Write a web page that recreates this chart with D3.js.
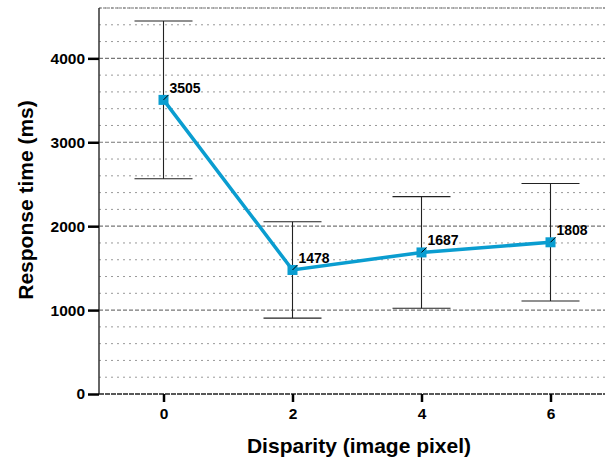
<!DOCTYPE html>
<html>
<head>
<meta charset="utf-8">
<script src="https://cdnjs.cloudflare.com/ajax/libs/d3/7.8.5/d3.min.js"></script>
<style>
  body { margin: 0; background: #fff; }
  svg { font-family: "Liberation Sans", Arial, sans-serif; }
</style>
</head>
<body>
<svg></svg>
<script>
  // data
  let disparity = [0, 2, 4, 6];
  let meanRT = [3505, 1478, 1687, 1808];
  let errRT = [940, 574, 665, 700];
  let xTicks = [0, 2, 4, 6];
  let yTicks = [0, 1000, 2000, 3000, 4000];

  let width = 605, height = 461;
  let margin = {top: 8, right: 0, bottom: 67, left: 99};
  let svg = d3.select("svg").attr("width", width).attr("height", height);

  let x = d3.scaleLinear().domain([-1, 6.5]).range([margin.left, margin.left + 7.5 * 64.5]);
  let y = d3.scaleLinear().domain([0, 4600]).range([height - margin.bottom, margin.top]);

  // minor grid every 200
  let minor = d3.range(200, 4601, 200).filter(v => v % 1000 !== 0);
  svg.append("g").selectAll("line").data(minor).enter().append("line")
    .attr("x1", margin.left).attr("x2", width)
    .attr("y1", d => y(d)).attr("y2", d => y(d))
    .attr("stroke", "#999").attr("stroke-width", 1).attr("stroke-dasharray", "2,4");

  // major grid
  svg.append("g").selectAll("line").data([1000, 2000, 3000, 4000, 4600]).enter().append("line")
    .attr("x1", margin.left).attr("x2", width)
    .attr("y1", d => y(d)).attr("y2", d => y(d))
    .attr("stroke", "#777").attr("stroke-width", 1.2).attr("stroke-dasharray", d => d === 4600 ? "3,1" : "4,2");

  // axes
  let yAxis = d3.axisLeft(y).tickValues(yTicks).tickFormat(d3.format("d")).tickSize(11).tickPadding(3);
  let gy = svg.append("g").attr("transform", "translate(" + margin.left + ",0)").call(yAxis);
  gy.select(".domain").attr("stroke", "#333").attr("stroke-width", 1.5).attr("d", "M0," + y(0) + "V" + y(4600));
  gy.selectAll(".tick line").attr("stroke", "#000").attr("stroke-width", 2.5);
  gy.selectAll(".tick text").attr("font-size", 15.5).attr("font-weight", "bold").attr("fill", "#000");

  let xAxis = d3.axisBottom(x).tickValues(xTicks).tickSize(8).tickPadding(6);
  let gx = svg.append("g").attr("transform", "translate(0," + y(0) + ")").call(xAxis);
  gx.select(".domain").attr("stroke", "#222").attr("stroke-width", 1.5).attr("stroke-dasharray", "5,1")
    .attr("d", "M" + margin.left + ",0H" + width);
  gx.selectAll(".tick line").attr("stroke", "#000").attr("stroke-width", 2.5);
  gx.selectAll(".tick text").attr("font-size", 15.5).attr("font-weight", "bold").attr("fill", "#000");

  // error bars
  let eb = svg.append("g").attr("stroke", "#222").attr("stroke-width", 1.1);
  disparity.forEach(function(d, i) {
    let hi = meanRT[i] + errRT[i], lo = meanRT[i] - errRT[i];
    eb.append("line").attr("x1", x(d)).attr("x2", x(d)).attr("y1", y(hi)).attr("y2", y(lo));
    eb.append("line").attr("x1", x(d) - 29).attr("x2", x(d) + 29).attr("y1", y(hi)).attr("y2", y(hi));
    eb.append("line").attr("x1", x(d) - 29).attr("x2", x(d) + 29).attr("y1", y(lo)).attr("y2", y(lo));
  });

  // line
  let pts = disparity.map((d, i) => [d, meanRT[i]]);
  svg.append("path").datum(pts)
    .attr("fill", "none").attr("stroke", "#0a9dd0").attr("stroke-width", 3.5)
    .attr("d", d3.line().x(d => x(d[0])).y(d => y(d[1])));

  svg.append("g").selectAll("rect").data(pts).enter().append("rect")
    .attr("x", d => x(d[0]) - 5).attr("y", d => y(d[1]) - 5)
    .attr("width", 10).attr("height", 10).attr("fill", "#0a9dd0");

  // labels with small leader
  svg.append("g").selectAll("line").data(pts).enter().append("line")
    .attr("x1", d => x(d[0])).attr("y1", d => y(d[1]))
    .attr("x2", d => x(d[0]) + 5).attr("y2", d => y(d[1]) - 5)
    .attr("stroke", "#000").attr("stroke-width", 1);

  svg.append("g").selectAll("text").data(pts).enter().append("text")
    .attr("x", d => x(d[0]) + 6).attr("y", d => y(d[1]) - 7)
    .attr("font-size", 14).attr("font-weight", "bold")
    .text(d => d[1]);

  // titles
  svg.append("text").attr("x", 359).attr("y", 453).attr("text-anchor", "middle")
    .attr("font-size", 21).attr("font-weight", "bold").text("Disparity (image pixel)");
  svg.append("text").attr("transform", "translate(33,200) rotate(-90)").attr("text-anchor", "middle")
    .attr("font-size", 21).attr("font-weight", "bold").text("Response time (ms)");
</script>
</body>
</html>
